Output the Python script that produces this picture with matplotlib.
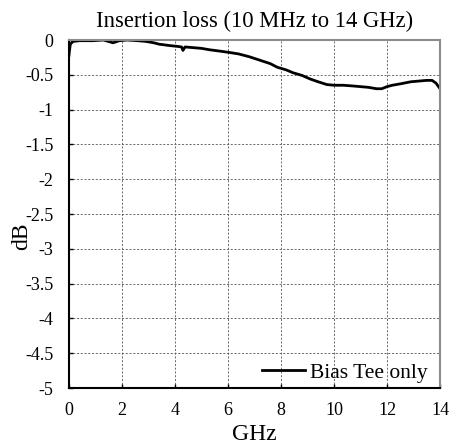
import numpy as np
import matplotlib
matplotlib.use("Agg")
import matplotlib.pyplot as plt

plt.rcParams['font.family'] = ['Liberation Serif', 'DejaVu Serif']

# =========================
# DATA
# =========================
freq_ghz = [0.0, 0.01, 0.05, 0.15, 0.4, 0.9, 1.3, 1.66, 1.9, 2.2, 2.6, 2.9, 3.2,
            3.4, 3.8, 4.06, 4.25, 4.3, 4.38, 4.7, 5.0, 5.3, 5.7, 6.07, 6.4, 6.8,
            7.2, 7.6, 7.85, 8.2, 8.45, 8.8, 9.1, 9.4, 9.73, 10.0, 10.35, 10.7,
            11.0, 11.3, 11.6, 11.8, 12.0, 12.2, 12.5, 12.9, 13.2, 13.5, 13.7,
            13.85, 14.0]
loss_db = [-0.22, -0.18, -0.06, -0.02, -0.01, -0.01, 0.0, -0.04, -0.01, 0.0,
           -0.01, -0.02, -0.04, -0.06, -0.08, -0.09, -0.10, -0.15, -0.10, -0.11,
           -0.12, -0.14, -0.16, -0.18, -0.20, -0.24, -0.29, -0.34, -0.39, -0.43,
           -0.47, -0.51, -0.56, -0.60, -0.64, -0.65, -0.65, -0.66, -0.67, -0.68,
           -0.70, -0.70, -0.67, -0.65, -0.63, -0.60, -0.59, -0.58, -0.58, -0.62,
           -0.70]

x_ticks = [0, 2, 4, 6, 8, 10, 12, 14]
y_ticks = [0, -0.5, -1, -1.5, -2, -2.5, -3, -3.5, -4, -4.5, -5]
y_tick_labels = ["0", "-0.5", "-1", "-1.5", "-2", "-2.5", "-3", "-3.5", "-4", "-4.5", "-5"]

# =========================
# PLOT
# =========================
fig = plt.figure(figsize=(4.5, 4.48), dpi=100)
ax = fig.add_axes([0.1533, 0.1339, 0.8245, 0.7768])

ax.plot(freq_ghz, loss_db, color='black', linewidth=2.0, label="Bias Tee only")

ax.set_xlim(0, 14)
ax.set_ylim(-5, 0)
ax.set_xticks(x_ticks)
ax.set_yticks(y_ticks)
ax.set_yticklabels(y_tick_labels)
ax.tick_params(direction='in', length=3, width=1, labelsize=13)
ax.tick_params(axis='y', pad=11)
ax.tick_params(axis='x', pad=10)

ax.grid(True, color='#555555', linestyle=(0, (2.5, 2)), linewidth=0.6)

for side in ['left', 'bottom']:
    ax.spines[side].set_color('black')
    ax.spines[side].set_linewidth(1.5)
for side in ['top', 'right']:
    ax.spines[side].set_color('#8c8c8c')
    ax.spines[side].set_linewidth(1.5)

ax.set_title("Insertion loss (10 MHz to 14 GHz)", fontsize=16.3, pad=9)
ax.set_xlabel("GHz", fontsize=17, labelpad=4)
ax.set_ylabel("dB", fontsize=17)
ax.yaxis.set_label_coords(-0.10, 0.437)

ax.legend(loc='lower right', bbox_to_anchor=(0.983, -0.004), frameon=False,
          fontsize=15.5, handlelength=2.0, handletextpad=0.2,
          borderaxespad=0, borderpad=0.3)

fig.savefig("out.png", dpi=100)
